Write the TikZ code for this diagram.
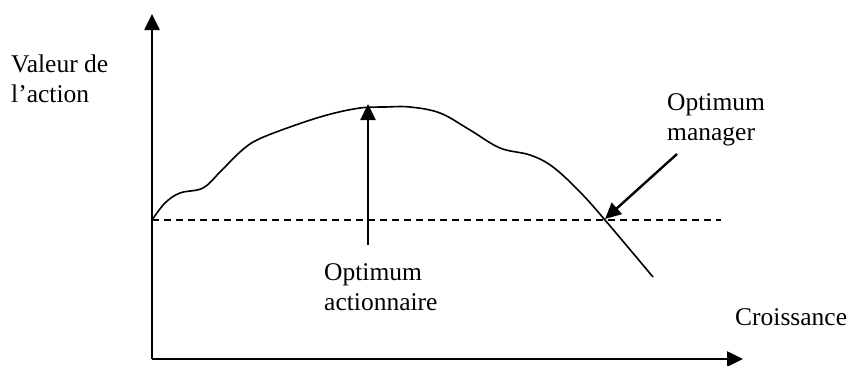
\documentclass[tikz,border=0pt]{standalone}
\usepackage{fontspec}
\setmainfont{Liberation Serif}
\usetikzlibrary{arrows.meta}
\begin{document}
\begin{tikzpicture}[x=1pt,y=-1pt,
  lbl/.style={font=\fontsize{25.5}{30}\selectfont,align=left,inner sep=0pt,anchor=base west},
  axis/.style={line width=2.6pt,-{Triangle[length=16pt,width=15pt]}},
  ptr/.style={line width=2.4pt,-{Triangle[length=16pt,width=15pt]}}]
\useasboundingbox (0,0) rectangle (853,365);
\coordinate (O) at (152,359);
\coordinate (Ytop) at (152,14);
\coordinate (Xend) at (743,359);
\draw[axis] (O) -- (Ytop);
\draw[axis] (O) -- (Xend);
\coordinate (D0) at (152,220);
\coordinate (D1) at (721,220);
\draw[line width=1.3pt,dash pattern=on 7pt off 5pt] (D0) -- (D1);
\draw[line width=1.6pt] plot[smooth,tension=0.6] coordinates {(152,220) (165,203) (180,193) (203,188) (220,172) (240,152) (257,140) (290,127) (327,115) (360,108) (385,107) (410,107) (440,113) (470,130) (500,148) (530,155) (553,167) (580,192) (605,220) (653,277)};
\coordinate (A0) at (368,245);
\coordinate (A1) at (368,104);
\draw[ptr] (A0) -- (A1);
\coordinate (M0) at (677,154);
\coordinate (M1) at (605,219);
\draw[ptr] (M0) -- (M1);
\node[lbl] (val) at (11,102) {Valeur de\\l'action};
\node[lbl] (opa) at (324,310) {Optimum\\actionnaire};
\node[lbl] (opm) at (667,140) {Optimum\\manager};
\node[lbl] (cro) at (735,325) {Croissance};
\end{tikzpicture}
\end{document}
